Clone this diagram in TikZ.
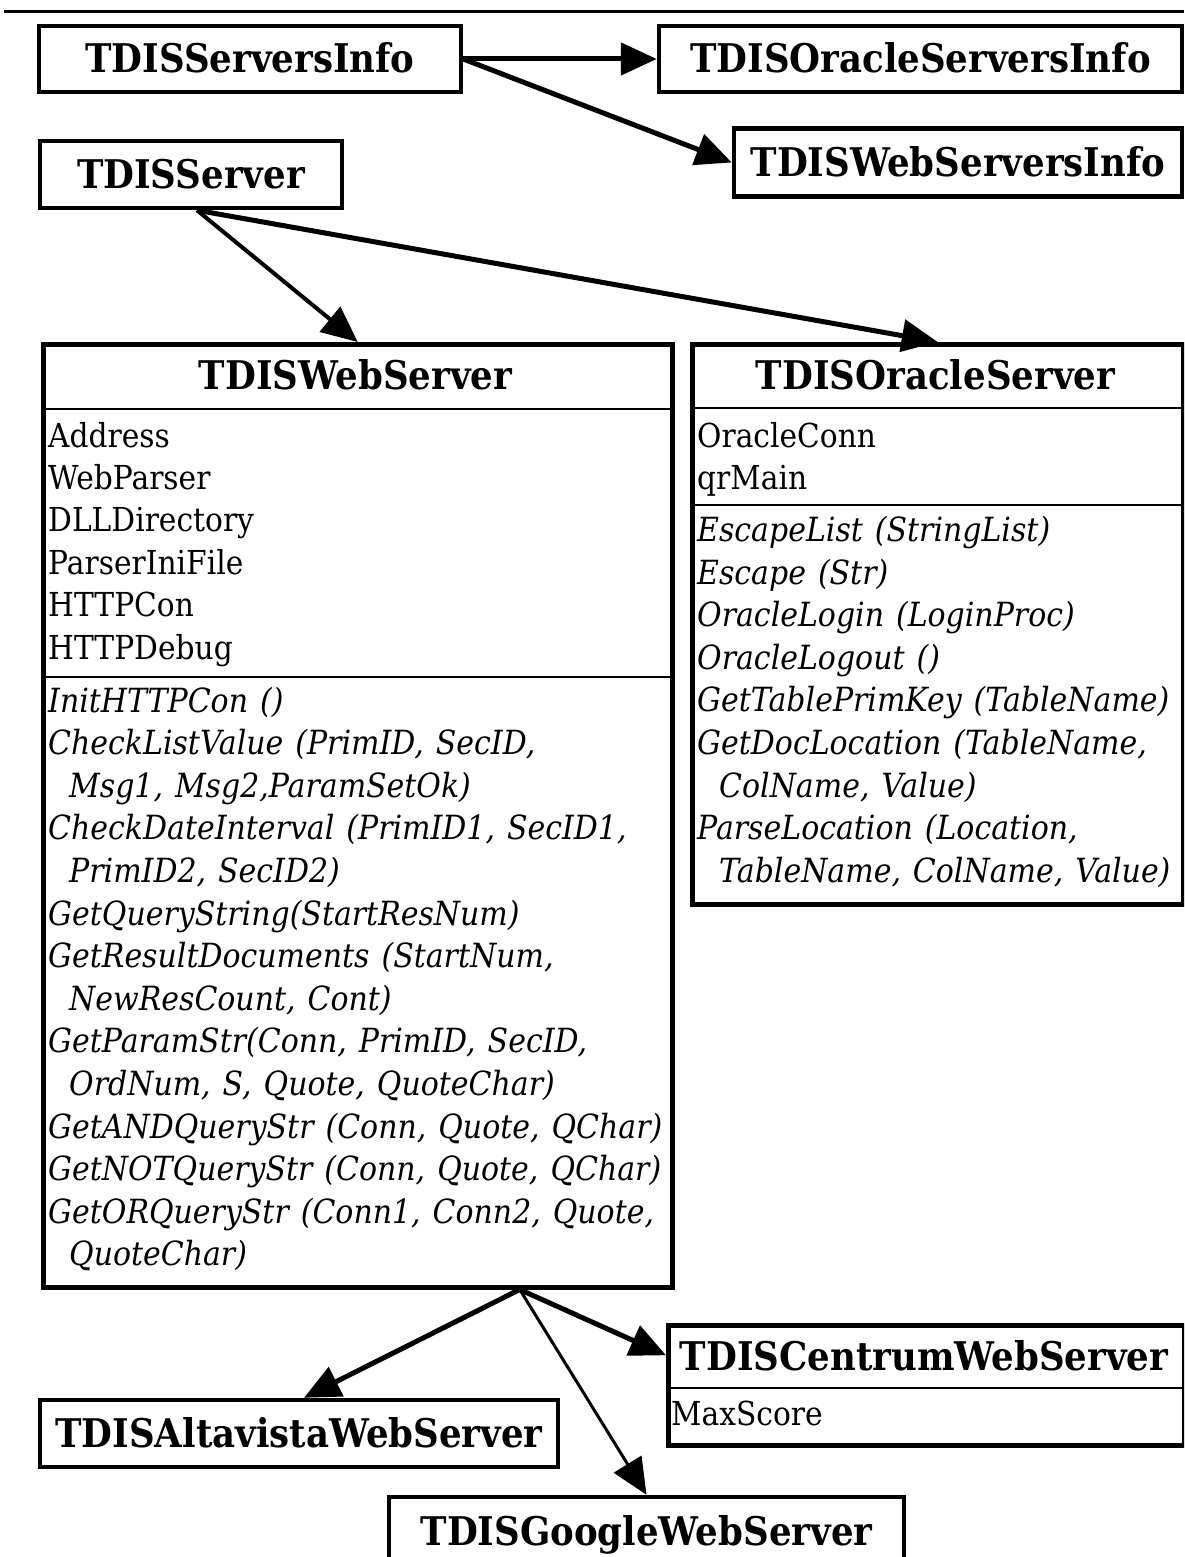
\documentclass[tikz,border=0pt]{standalone}
\usepackage{fontspec}
\setmainfont[FakeStretch=0.9]{DejaVu Serif}
\usetikzlibrary{arrows.meta,calc}
\newcommand\dgTitle{\fontsize{39.5pt}{40pt}\selectfont\bfseries}
\newcommand\dgAttr{\fontsize{33pt}{42pt}\selectfont}
\newcommand\dgMeth{\fontsize{33.3pt}{42pt}\selectfont\itshape\spaceskip=12pt\relax}
\tikzset{
  boxline/.style={draw=black, line width=4.5pt},
  simplebox/.style={boxline, inner sep=0pt, text height=28pt, text depth=0pt, font=\dgTitle},
  framebox/.style={boxline, inner sep=0pt, anchor=north west},
  sepline/.style={draw=black, line width=2.5pt},
  ctitle/.style={inner sep=0pt, anchor=base, font=\dgTitle},
  attr/.style={inner sep=0pt, anchor=base west, font=\dgAttr},
  meth/.style={inner sep=0pt, anchor=base west, font=\dgMeth},
  conn/.style={draw=black, line width=5pt, -{Triangle[length=36pt,width=32pt]}},
  thinconn/.style={conn, line width=3pt},
}
\begin{document}
\begin{tikzpicture}[x=1pt,y=-1pt]
\useasboundingbox (0,0) rectangle (1184,1557);
\clip (0,0) rectangle (1184,1557);
\fill[white] (0,0) rectangle (1184,1557);
\draw[line width=3pt] (4,11.5) -- (1184,11.5);

% simple boxes
\node[simplebox, minimum width=422pt, minimum height=66pt] (si) at (250,59) {TDISServersInfo};
\node[simplebox, minimum width=523pt, minimum height=66pt] (osi) at (920.5,59) {TDISOracleServersInfo};
\node[simplebox, minimum width=448pt, minimum height=68pt] (wsi) at (958,162.5) {TDISWebServersInfo};
\node[simplebox, minimum width=302pt, minimum height=67pt] (srv) at (191,174.5) {TDISServer};
\node[simplebox, minimum width=518pt, minimum height=67pt] (alt) at (299,1433.5) {TDISAltavistaWebServer};
\node[simplebox, minimum width=515pt, minimum height=68pt] (goo) at (646.5,1531) {TDISGoogleWebServer};

% TDISWebServer
\node[framebox, minimum width=629pt, minimum height=943pt] (ws) at (41,342) {};
\node[ctitle] (wst) at (355.5,389) {TDISWebServer};
\draw[sepline] (41,409) -- (670,409);
\draw[sepline] (41,677) -- (670,677);
\foreach \t [count=\i] in {Address,WebParser,DLLDirectory,ParserIniFile,HTTPCon,HTTPDebug}
  \node[attr] (wsa\i) at (48,{447+42.4*(\i-1)}) {\t};
\foreach \x/\t [count=\i] in {48/{InitHTTPCon ()},48/{CheckListValue (PrimID, SecID,},69/{Msg1, Msg2,ParamSetOk)},48/{CheckDateInterval (PrimID1, SecID1,},69/{PrimID2, SecID2)},48/{GetQueryString(StartResNum)},48/{GetResultDocuments (StartNum,},69/{NewResCount, Cont)},48/{GetParamStr(Conn, PrimID, SecID,},69/{OrdNum, S, Quote, QuoteChar)},48/{GetANDQueryStr (Conn, Quote, QChar)},48/{GetNOTQueryStr (Conn, Quote, QChar)},48/{GetORQueryStr (Conn1, Conn2, Quote,},69/{QuoteChar)}}
  \node[meth] (wsm\i) at (\x,{712+42.6*(\i-1)}) {\t};

% TDISOracleServer
\node[framebox, minimum width=491pt, minimum height=560pt] (os) at (690,342) {};
\node[ctitle] (ost) at (935.5,389) {TDISOracleServer};
\draw[sepline] (690,408) -- (1181,408);
\draw[sepline] (690,505) -- (1181,505);
\foreach \t [count=\i] in {OracleConn,qrMain}
  \node[attr] (osa\i) at (697,{447+42.4*(\i-1)}) {\t};
\foreach \x/\t [count=\i] in {697/{EscapeList (StringList)},697/{Escape (Str)},697/{OracleLogin (LoginProc)},697/{OracleLogout ()},697/{GetTablePrimKey (TableName)},697/{GetDocLocation (TableName,},719/{ColName, Value)},697/{ParseLocation (Location,},719/{TableName, ColName, Value)}}
  \node[meth] (osm\i) at (\x,{541.5+42.6*(\i-1)}) {\t};

% TDISCentrumWebServer
\node[framebox, minimum width=516pt, minimum height=120pt] (cen) at (666,1323) {};
\node[ctitle] (cent) at (924,1370) {TDISCentrumWebServer};
\draw[sepline] (666,1388) -- (1182,1388);
\node[attr] (cena1) at (671,1425) {MaxScore};

% connectors
\draw[conn] (si.east) -- (osi.west);
\draw[conn] (si.east) -- (wsi.west);
\coordinate (srvout) at ([xshift=6pt]srv.south);
\draw[conn, line width=4pt] (srvout) -- (ws.north);
\draw[conn] (srvout) -- (os.north);
\coordinate (wsout) at ([xshift=162pt]ws.south);
\draw[conn] (wsout) -- ([xshift=5pt]alt.north);
\draw[conn] (wsout) -- ([yshift=30pt]cen.west);
\draw[thinconn] (wsout) -- (goo.north);
\end{tikzpicture}
\end{document}
